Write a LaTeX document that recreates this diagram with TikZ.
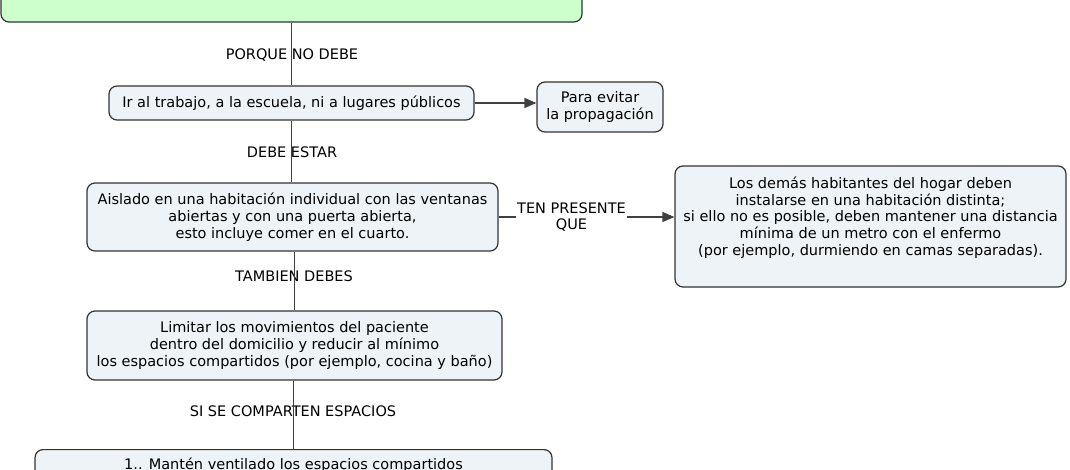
\documentclass[tikz,border=0pt]{standalone}
\usepackage{fontspec}
\setmainfont{DejaVu Sans}
\usetikzlibrary{arrows.meta}
\definecolor{boxfill}{RGB}{237,243,246}
\definecolor{greenfill}{RGB}{204,255,204}
\definecolor{edge}{RGB}{51,51,51}
\definecolor{lineclr}{RGB}{64,64,64}
\begin{document}
\begin{tikzpicture}[x=1pt,y=-1pt,
  every node/.style={font=\fontsize{14.5}{16.8}\selectfont, text=black},
  concept/.style={draw=edge, line width=1.2pt, fill=boxfill, rounded corners=8pt, align=center, inner sep=0pt},
  linklabel/.style={inner sep=1pt, align=center},
  conn/.style={draw=lineclr, line width=1.2pt},
  arr/.style={conn, -{Triangle[length=12pt,width=10pt]}}]
\useasboundingbox (0,0) rectangle (1070,470);
\fill[white] (0,0) rectangle (1070,470);
% concept nodes
\node[concept, fill=greenfill, minimum width=581pt, minimum height=44pt] (top) at (291.5,0) {};
\node[concept, minimum width=365pt, minimum height=34pt] (b2) at (291.5,103) {Ir al trabajo, a la escuela, ni a lugares públicos};
\node[concept, minimum width=126pt, minimum height=50pt] (b3) at (600,107) {Para evitar\\la propagación};
\node[concept, minimum width=411pt, minimum height=68pt] (b4) at (292.5,217) {Aislado en una habitación individual con las ventanas\\abiertas y con una puerta abierta,\\esto incluye comer en el cuarto.};
\node[concept, minimum width=391pt, minimum height=121pt] (b5) at (870.5,226.5) {\raisebox{8pt}[\height][\depth]{\begin{tabular}{@{}c@{}}Los demás habitantes del hogar deben\\instalarse en una habitación distinta;\\si ello no es posible, deben mantener una distancia\\mínima de un metro con el enfermo\\ (por ejemplo, durmiendo en camas separadas).\end{tabular}}};
\node[concept, minimum width=415pt, minimum height=69pt] (b6) at (294.5,345.5) {Limitar los movimientos del paciente\\dentro del domicilio y reducir al mínimo\\los espacios compartidos (por ejemplo, cocina y baño)};
\node[concept, minimum width=517pt, minimum height=32pt, anchor=north] (b7) at (293.5,449) {1.. Mantén ventilado los espacios compartidos};
% link labels
\node[linklabel] (l1) at (292,55) {PORQUE NO DEBE};
\node[linklabel] (l2) at (292,152) {DEBE ESTAR};
\node[linklabel] (l3) at (571.5,217) {TEN PRESENTE\\QUE};
\node[linklabel] (l4) at (294,276) {TAMBIEN DEBES};
\node[linklabel] (l5) at (293,411) {SI SE COMPARTEN ESPACIOS};
% connectors
\draw[conn] (top.south) -- (b2.north);
\draw[conn] (b2.south) -- (b2.south |- b4.north);
\draw[conn] (b6.north |- b4.south) -- (b6.north);
\draw[conn] (b7.north |- b6.south) -- (b7.north);
\draw[arr] (b2.east) -- (b2.east -| b3.west);
\draw[conn] (b4.east) -- (l3.west);
\draw[arr] (l3.east) -- (l3.east -| b5.west);
\end{tikzpicture}
\end{document}
